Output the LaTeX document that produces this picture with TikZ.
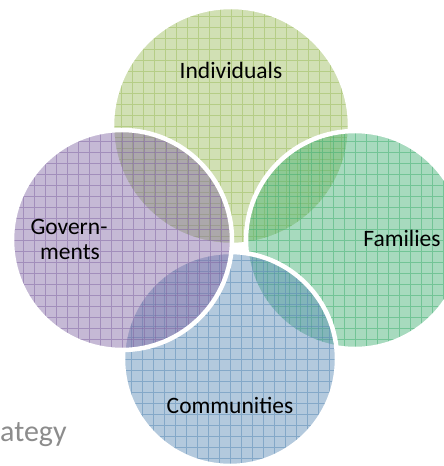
\documentclass[tikz,border=0pt]{standalone}
\usepackage{fontspec}
\setmainfont{Carlito}
\definecolor{cInd}{HTML}{9BBB59}
\definecolor{cFam}{HTML}{3EAF6F}
\definecolor{cCom}{HTML}{5788B4}
\definecolor{cGov}{HTML}{8064A2}
\definecolor{cGray}{HTML}{8C8C8C}
\tikzset{
  venn/.style 2 args={circle, inner sep=0pt, minimum size=#1,
    draw=white, line width=4.5pt, fill=#2, fill opacity=0.45,
    path picture={\draw[#2, draw opacity=0.5, line width=0.8pt]
      (path picture bounding box.south west) grid[step=11pt]
      (path picture bounding box.north east);}},
  lbl/.style={font=\fontsize{23.5}{28}\selectfont, text=black, anchor=base, inner sep=0pt}
}
\begin{document}
\begin{tikzpicture}[x=1pt,y=-1pt]
\clip (0,0) rectangle (444,466);
\fill[white] (0,0) rectangle (444,466);
\node[venn={238pt}{cInd}] (ind) at (231,126) {};
\node[venn={218pt}{cFam}] (fam) at (355,240) {};
\node[venn={214pt}{cCom}] (com) at (230,359) {};
\node[venn={220pt}{cGov}] (gov) at (122,240) {};
\node[lbl] (tind) at (231,78) {Individuals};
\node[lbl] (tfam) at (402,246) {Families};
\node[lbl] (tcom) at (230,413) {Communities};
\node[lbl] (tgov1) at (69,234) {Govern-};
\node[lbl] (tgov2) at (70,259) {ments};
\node[font=\fontsize{30}{34}\selectfont, text=cGray, anchor=base west, inner sep=0pt] (strat) at (0,441) {ategy};
\end{tikzpicture}
\end{document}
